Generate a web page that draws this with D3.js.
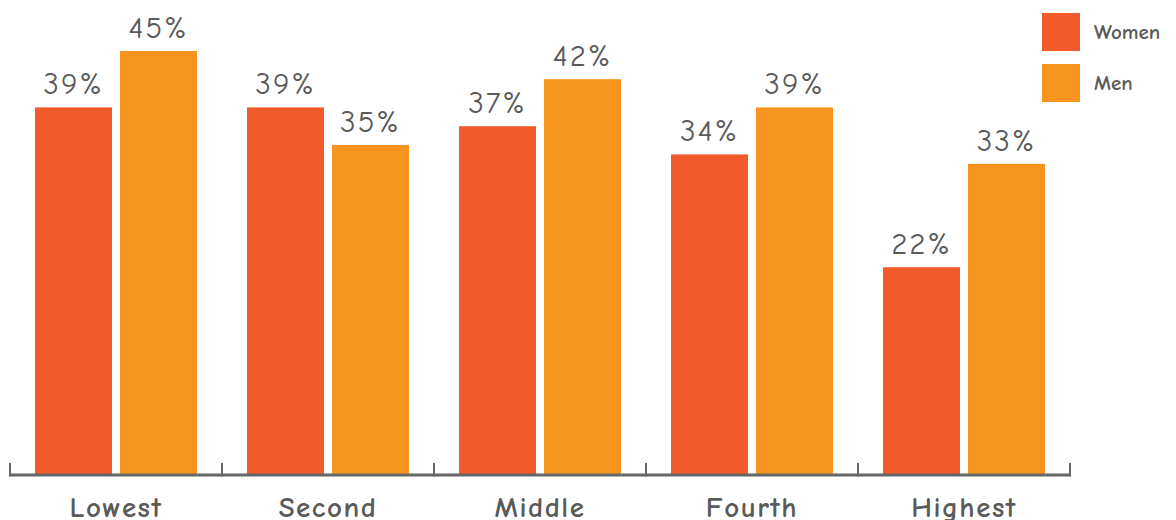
<!DOCTYPE html>
<html><head><meta charset="utf-8">
<script src="https://cdn.jsdelivr.net/npm/d3@7"></script>
<style>body{margin:0;background:#fff;overflow:hidden}</style>
</head><body><svg id="c" width="1176" height="520"></svg>
<script>
const categories = ["Lowest", "Second", "Middle", "Fourth", "Highest"];
const seriesNames = ["Women", "Men"];
const women = [39, 39, 37, 34, 22];
const men = [45, 35, 42, 39, 33];
const colors = ["#F15A2B", "#F7941E"];
const titleText = "Share by income quintile who approve";

const svg = d3.select("#c");
const font = "'Comic Neue','Comic Sans MS','DejaVu Sans',sans-serif";
const base = 474;
const x = d3.scaleBand().domain(categories).range([10, 1070]).paddingInner(0.236).paddingOuter(0.118);
const xi = d3.scaleBand().domain(seriesNames).range([0, x.bandwidth()]).paddingInner(0.094);
const y = d3.scaleLinear().domain([0, 45]).range([base, 51]);
const color = d3.scaleOrdinal().domain(seriesNames).range(colors);

svg.append("text").attr("x", 20).attr("y", -6).attr("fill", "#F7941E")
  .attr("font-family", font).attr("font-size", 28).text(titleText);

const data = categories.map((c, i) => ({c, vals: [{s: "Women", v: women[i]}, {s: "Men", v: men[i]}]}));
const g = svg.selectAll("g.cat").data(data).enter().append("g")
  .attr("transform", d => `translate(${x(d.c)},0)`);
g.selectAll("rect").data(d => d.vals).enter().append("rect")
  .attr("x", d => xi(d.s)).attr("width", xi.bandwidth())
  .attr("y", d => y(d.v)).attr("height", d => base - y(d.v))
  .attr("fill", d => color(d.s));
g.selectAll("text.v").data(d => d.vals).enter().append("text")
  .attr("x", d => xi(d.s) + xi.bandwidth() / 2).attr("y", d => y(d.v) - 13)
  .attr("text-anchor", "middle").attr("fill", "#5a5a5a")
  .attr("font-family", font).attr("font-size", 31).attr("letter-spacing", 2)
  .text(d => d.v + "%");

// axis
const axis = svg.append("g").attr("transform", `translate(0,${base})`);
const edges = categories.map(c => x(c) - x.step() * 0.118).concat([1070]);
axis.append("line").attr("x1", 10).attr("x2", 1070).attr("y1", 1).attr("y2", 1)
  .attr("stroke", "#666").attr("stroke-width", 3);
axis.selectAll("line.t").data(edges).enter().append("line")
  .attr("x1", d => d).attr("x2", d => d).attr("y1", 2.5).attr("y2", -11)
  .attr("stroke", "#666").attr("stroke-width", 2);
axis.selectAll("text").data(categories).enter().append("text")
  .attr("x", d => x(d) + x.bandwidth() / 2).attr("y", 43)
  .attr("text-anchor", "middle").attr("fill", "#5a5a5a")
  .attr("font-family", font).attr("font-size", 29).attr("font-weight", "bold").attr("letter-spacing", 1.5)
  .text(d => d);

// legend
const lg = svg.selectAll("g.lg").data(seriesNames).enter().append("g")
  .attr("transform", (d, i) => `translate(1042,${13 + i * 51})`);
lg.append("rect").attr("width", 38).attr("height", 38).attr("fill", d => color(d));
lg.append("text").attr("x", 52).attr("y", 26).attr("fill", "#5a5a5a")
  .attr("font-family", font).attr("font-size", 21).attr("font-weight", "bold").text(d => d);
</script></body></html>
